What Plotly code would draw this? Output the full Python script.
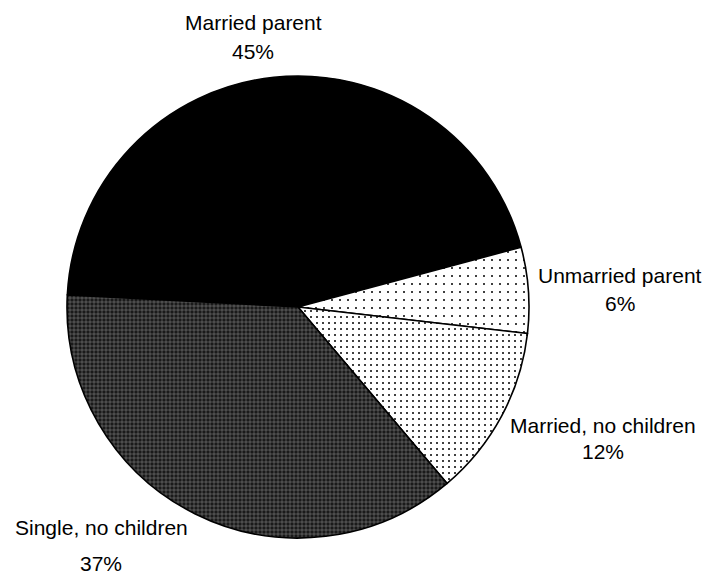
import plotly.graph_objects as go

categories = ["Married parent", "Unmarried parent", "Married, no children", "Single, no children"]
values = [45, 6, 12, 37]
pct_labels = ["45%", "6%", "12%", "37%"]

W, H = 710, 576
OFF = 8  # page body margin offset
cx, cy, R = 298 - OFF, 307 - OFF, 231

fig = go.Figure(go.Pie(
    labels=categories,
    values=values,
    sort=False,
    direction="clockwise",
    rotation=-87,
    textinfo="none",
    hoverinfo="label+percent",
    showlegend=False,
    marker=dict(
        colors=["#000000", "#fcfcfc", "#f4f4f4", "#2e2e2e"],
        line=dict(color="#000000", width=1.6),
        pattern=dict(
            shape=["", ".", ".", "+"],
            fgcolor=["#000000", "#000000", "#000000", "#c0c0c0"],
            bgcolor=["#000000", "#ffffff", "#ffffff", "#1a1a1a"],
            size=[8, 8, 6, 4],
            solidity=[0.0, 0.05, 0.09, 0.16],
        ),
    ),
    domain=dict(x=[(cx - R) / W, (cx + R) / W], y=[(H - cy - R) / H, (H - cy + R) / H]),
))

# label positions (pixel centres) for name line and percent line
name_pos = [(253, 22), (620, 275), (603, 425), (101, 527)]
pct_pos = [(253, 52), (620, 303), (603, 451), (101, 563)]

font = dict(family="Liberation Sans, Arial, sans-serif", size=21, color="#000000")
ann = []
for name, pct, (nx, ny), (px, py) in zip(categories, pct_labels, name_pos, pct_pos):
    ann.append(dict(text=name, x=(nx - OFF) / W, y=1 - (ny - OFF) / H, xref="paper", yref="paper",
                    xanchor="center", yanchor="middle", showarrow=False, font=font))
    ann.append(dict(text=pct, x=(px - OFF) / W, y=1 - (py - OFF) / H, xref="paper", yref="paper",
                    xanchor="center", yanchor="middle", showarrow=False, font=font))

fig.update_layout(
    width=W, height=H,
    margin=dict(l=0, r=0, t=0, b=0),
    paper_bgcolor="#ffffff",
    plot_bgcolor="#ffffff",
    annotations=ann,
)

fig.write_html("out.html")
